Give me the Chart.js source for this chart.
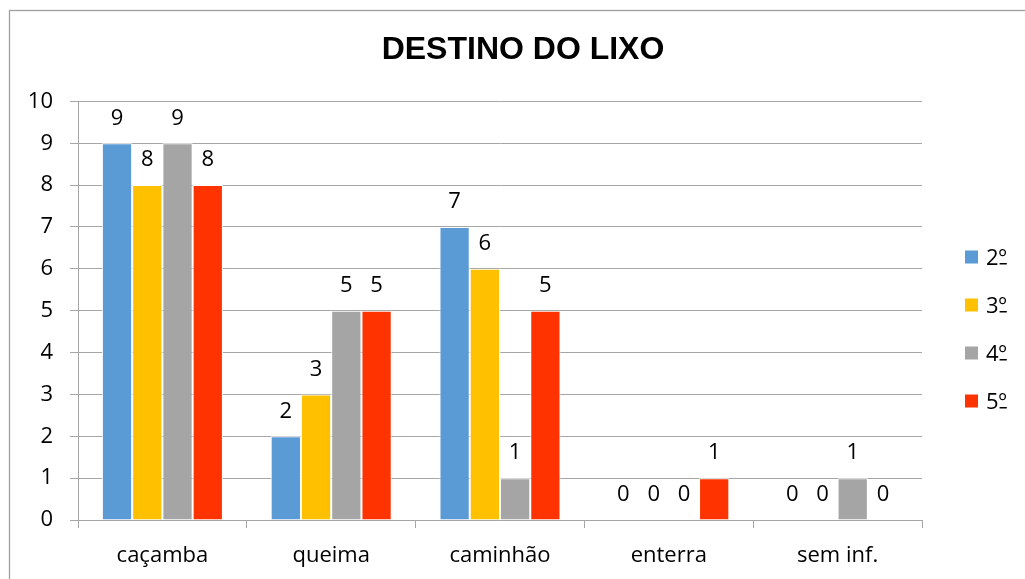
<!DOCTYPE html>
<html>
<head>
<meta charset="utf-8">
<script src="https://cdn.jsdelivr.net/npm/chart.js@4"></script>
<style>
  html, body { margin: 0; padding: 0; background: #fff; }
  #wrap { width: 1025px; height: 579px; }
</style>
</head>
<body>
<div id="wrap"><canvas id="myChart" width="1025" height="579"></canvas></div>
<script>
const categories = ['caçamba', 'queima', 'caminhão', 'enterra', 'sem inf.'];
const seriesNames = ['2º', '3º', '4º', '5º'];
const serie2 = [9, 2, 7, 0, 0];
const serie3 = [8, 3, 6, 0, 0];
const serie4 = [9, 5, 1, 0, 1];
const serie5 = [8, 5, 5, 1, 0];
const yTicks = [0, 1, 2, 3, 4, 5, 6, 7, 8, 9, 10];

const colors = ['#5B9BD5', '#FFC000', '#A5A5A5', '#FF3300'];
const font = 'Open Sans';
const gridColor = '#a6a6a6';

// outer frame of the chart
const frame = {
    id: 'frame',
    beforeDraw(chart) {
        const c = chart.ctx;
        c.save();
        c.fillStyle = '#fff';
        c.fillRect(0, 0, chart.width, chart.height);
        c.strokeStyle = '#a0a0a0';
        c.lineWidth = 1.3;
        c.strokeRect(9.5, 10.5, chart.width + 50, chart.height + 50);
        c.restore();
    }
};

// value above each bar
const valueLabels = {
    id: 'valueLabels',
    afterDatasetsDraw(chart) {
        const c = chart.ctx;
        c.save();
        c.font = '22px "' + font + '"';
        c.fillStyle = '#000';
        c.textAlign = 'center';
        c.textBaseline = 'middle';
        chart.data.datasets.forEach((ds, i) => {
            chart.getDatasetMeta(i).data.forEach((bar, j) => {
                c.fillText(String(ds.data[j]), bar.x, bar.y - 25);
            });
        });
        c.restore();
    }
};

// legend column on the right, ordinal sign underlined
const sideLegend = {
    id: 'sideLegend',
    afterDraw(chart) {
        const c = chart.ctx;
        const x = chart.chartArea.right + 43;
        const y0 = 257;
        c.save();
        c.font = '22px "' + font + '"';
        c.textBaseline = 'alphabetic';
        chart.data.datasets.forEach((ds, i) => {
            const y = y0 + i * 48;
            c.fillStyle = ds.backgroundColor;
            c.fillRect(x, y - 6.5, 13, 13);
            c.fillStyle = '#000';
            const tx = x + 21, base = y + 8;
            c.fillText(ds.label, tx, base);
            const w0 = c.measureText(ds.label.slice(0, -1)).width;
            const w1 = c.measureText(ds.label.slice(-1)).width;
            c.fillRect(tx + w0 + 1, base - 2, w1 - 1, 1.5);
        });
        c.restore();
    }
};

const seriesData = [serie2, serie3, serie4, serie5];

new Chart(document.getElementById('myChart'), {
    type: 'bar',
    data: {
        labels: categories,
        datasets: seriesNames.map((name, i) => ({
            label: name,
            data: seriesData[i],
            backgroundColor: colors[i],
            borderColor: '#ffffff',
            borderWidth: 1,
            categoryPercentage: 0.717,
            barPercentage: 1
        }))
    },
    options: {
        responsive: false,
        animation: false,
        layout: { padding: { left: 21, right: 0, top: 0, bottom: 0 } },
        plugins: {
            legend: { display: false },
            tooltip: { enabled: false },
            title: {
                display: true,
                text: 'DESTINO DO LIXO',
                color: '#000',
                font: { family: 'Liberation Sans', size: 32, weight: 'bold' },
                padding: { top: 31, bottom: 32 }
            }
        },
        scales: {
            x: {
                grid: { drawOnChartArea: false, drawTicks: true, tickLength: 8, color: gridColor, offset: true },
                border: { color: gridColor },
                ticks: { color: '#000', font: { family: font, size: 22 }, padding: 15 },
                afterFit(scale) { scale.height = 59; }
            },
            y: {
                min: 0,
                max: 10,
                afterBuildTicks(scale) { scale.ticks = yTicks.map(v => ({ value: v })); },
                grid: { color: gridColor, tickLength: 8 },
                border: { color: gridColor },
                ticks: { color: '#000', font: { family: font, size: 22 }, padding: 17 },
                afterFit(scale) { scale.width = 57; }
            },
            // empty column on the right that holds the legend
            side: {
                position: 'right',
                grid: { display: false },
                border: { display: false },
                ticks: { display: false },
                afterFit(scale) { scale.width = 103; }
            }
        }
    },
    plugins: [frame, valueLabels, sideLegend]
});
</script>
</body>
</html>
